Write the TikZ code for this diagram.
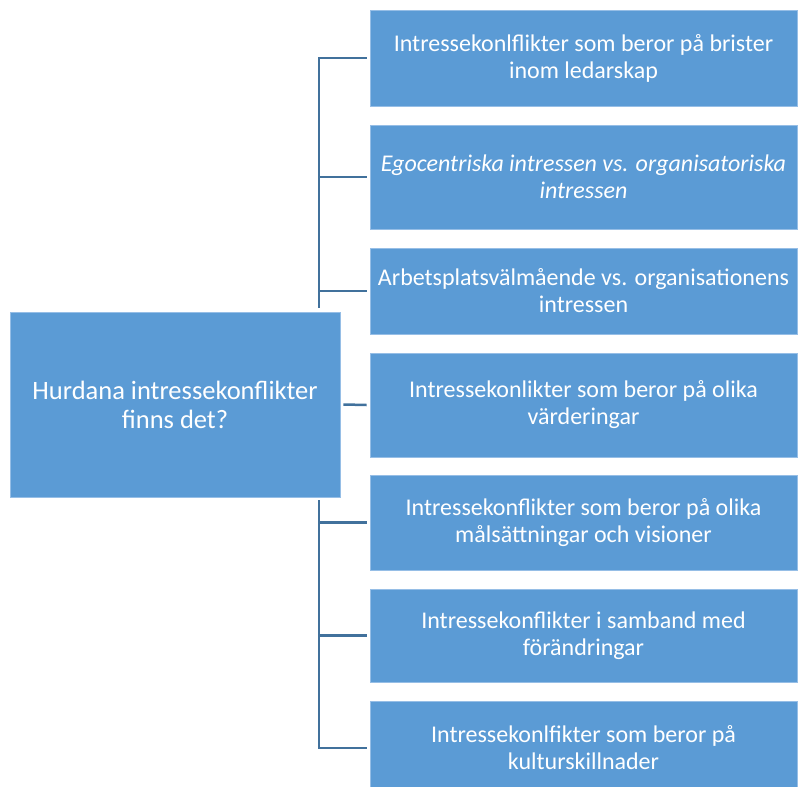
\documentclass[tikz,border=0pt]{standalone}
\usepackage{fontspec}
\setmainfont{Carlito}
\usepackage{xcolor}
\usetikzlibrary{positioning}

\definecolor{boxblue}{RGB}{91,155,213}
\definecolor{boxedge}{RGB}{150,190,230}
\definecolor{linkblue}{RGB}{65,113,156}

\tikzset{
	box/.style={rectangle, fill=boxblue, draw=boxedge, line width=0.8pt, text=white, align=center, inner sep=0pt},
	kind/.style={box, minimum width=427pt, font=\fontsize{24}{27}\selectfont},
	link/.style={draw=linkblue, line width=2.5pt}
}

\begin{document}
\begin{tikzpicture}[x=1pt,y=-1pt]
	\useasboundingbox (0,0) rectangle (798,787);
	\clip (0,0) rectangle (798,787);
	
	\node[box, minimum width=330pt, minimum height=185pt, font=\fontsize{26.5}{29}\selectfont] (q) at (175,404.5) {Hurdana intressekonflikter\\finns det?};
	
	\node[kind, minimum height=96pt] (b1) at (583.5,58) {Intressekonlflikter som beror på brister\\inom ledarskap};
	\node[kind, minimum height=104pt, font=\fontsize{24}{27}\selectfont\itshape] (b2) at (583.5,177) {Egocentriska intressen vs. organisatoriska\\intressen};
	\node[kind, minimum height=86pt] (b3) at (583.5,291) {Arbetsplatsvälmående vs. organisationens\\intressen};
	\node[kind, minimum height=104pt] (b4) at (583.5,405) {Intressekonlikter som beror på olika\\värderingar};
	\node[kind, minimum height=95pt] (b5) at (583.5,522.5) {Intressekonflikter som beror på olika\\målsättningar och visioner};
	\node[kind, minimum height=93pt] (b6) at (583.5,635.5) {Intressekonflikter i samband med\\förändringar};
	\node[kind, minimum height=94pt] (b7) at (583.5,748) {Intressekonlfikter som beror på\\kulturskillnader};
	
	% spine
	\coordinate (spine) at (319,0);
	\draw[link] ([xshift=-3pt]b1.west) -| ([yshift=4pt]q.north -| spine);
	\draw[link] ([xshift=-3pt]b7.west) -| ([yshift=-3pt]q.south -| spine);
	\foreach \b in {b2,b3,b5,b6}{
		\draw[link] ([xshift=-3pt]\b.west) -- (\b.west -| spine);
	}
	\draw[link] ([xshift=3pt]q.east) -- ([xshift=-3pt]b4.west);
	
\end{tikzpicture}
\end{document}
